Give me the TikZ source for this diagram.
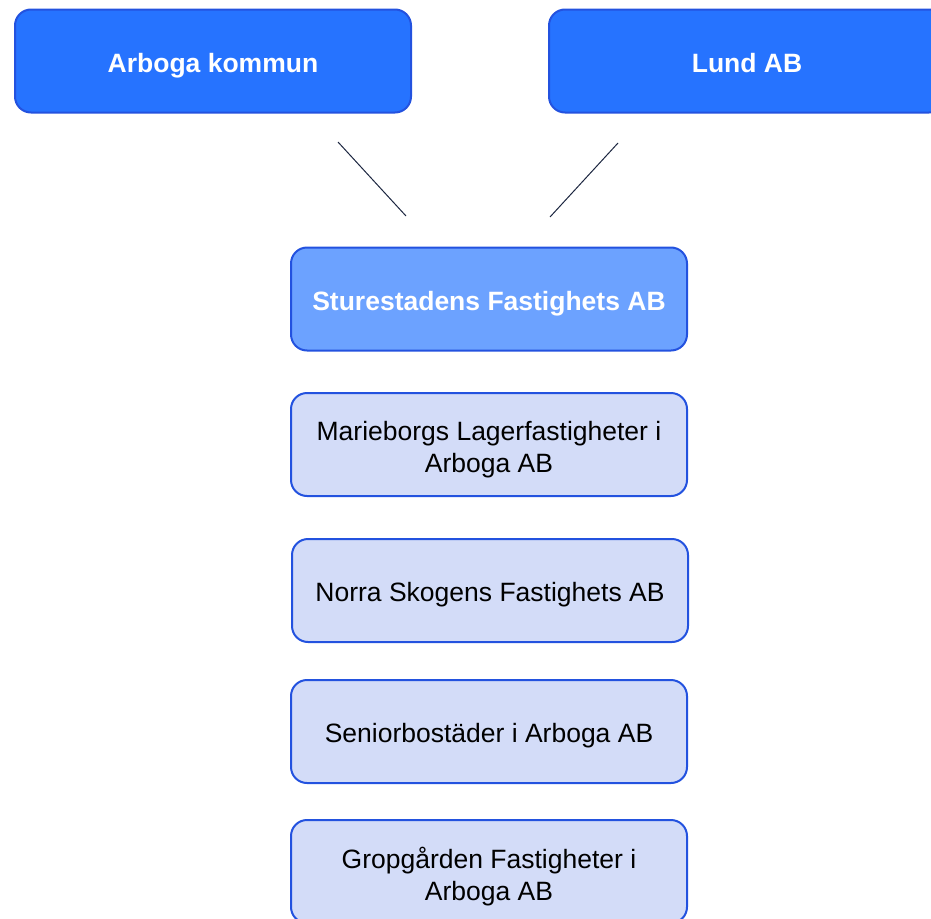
\documentclass[tikz,border=0pt]{standalone}
\usepackage{fontspec}
\setmainfont{Liberation Sans}
\definecolor{darkfill}{HTML}{2673FF}
\definecolor{midfill}{HTML}{6CA2FF}
\definecolor{lightfill}{HTML}{D3DCF8}
\definecolor{boxline}{HTML}{2352DF}
\definecolor{linkcol}{HTML}{1C2640}
\tikzset{
  orgbox/.style={draw=boxline, line width=2pt, rounded corners=16pt, minimum width=396pt, minimum height=103pt, inner sep=0pt, align=center, font=\fontsize{26.5}{32}\selectfont},
  oneline/.style={text height=25pt, text depth=3pt},
  twoline/.style={label={[align=center, font=\fontsize{26.5}{32}\selectfont, text=black, yshift=-5pt]center:#1}},
  topbox/.style={orgbox, oneline, fill=darkfill, text=white, font=\fontsize{26.5}{32}\selectfont\bfseries},
  mainbox/.style={orgbox, oneline, fill=midfill, text=white, font=\fontsize{26.5}{32}\selectfont\bfseries},
  subbox/.style={orgbox, fill=lightfill, text=black},
  link/.style={draw=linkcol, line width=1pt}
}
\begin{document}
\begin{tikzpicture}[x=1pt,y=-1pt]
\useasboundingbox (0,0) rectangle (931,918);
\clip (0,0) rectangle (931,918);
\node[topbox] (arboga) at (213,61) {Arboga kommun};
\node[topbox] (lund) at (747,61) {Lund AB};
\node[mainbox] (sture) at (489,299) {Sturestadens Fastighets AB};
\node[subbox, twoline={Marieborgs Lagerfastigheter i\\Arboga AB}] (marie) at (489,444.5) {};
\node[subbox, oneline] (norra) at (490,590.5) {Norra Skogens Fastighets AB};
\node[subbox, oneline] (senior) at (489,731.5) {Seniorbostäder i Arboga AB};
\node[subbox, twoline={Gropgården Fastigheter i\\Arboga AB}] (grop) at (489,871.5) {};
\coordinate (a1) at (338,142);
\coordinate (a2) at (406,216);
\coordinate (l1) at (618,143);
\coordinate (l2) at (550,217);
\draw[link] (a1) -- (a2);
\draw[link] (l1) -- (l2);
\end{tikzpicture}
\end{document}
